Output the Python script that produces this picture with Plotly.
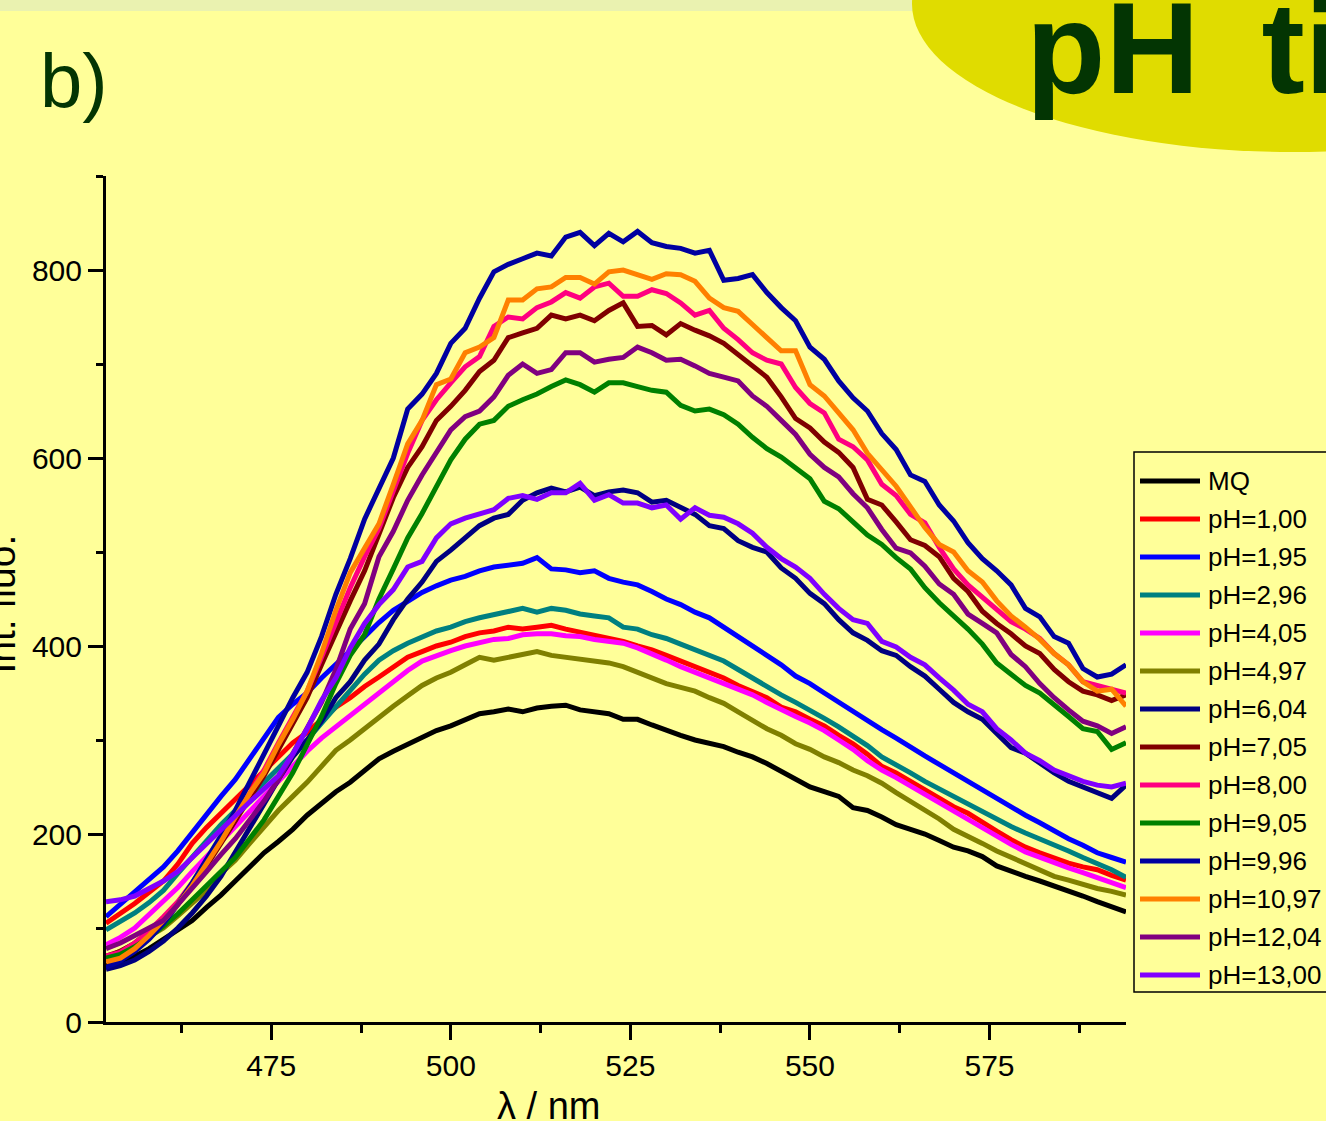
import plotly.graph_objects as go

# ---------------- data ----------------
wavelength = list(range(452, 595, 2))  # nm, 452 ... 594

names = ["MQ", "pH=1,00", "pH=1,95", "pH=2,96", "pH=4,05", "pH=4,97", "pH=6,04",
         "pH=7,05", "pH=8,00", "pH=9,05", "pH=9,96", "pH=10,97", "pH=12,04", "pH=13,00"]
colors = ["#000000", "#FF0000", "#0000FF", "#008080", "#FF00FF", "#808000", "#000080",
          "#800000", "#FF0080", "#008000", "#0000A0", "#FF8000", "#800080", "#8000FF"]

mq = [60, 65, 70, 78, 88, 98, 108, 122, 135, 150,
      165, 180, 192, 205, 220, 232, 245, 255, 268, 280,
      288, 295, 303, 310, 315, 322, 328, 330, 333, 330,
      334, 336, 337, 332, 330, 328, 322, 322, 316, 310,
      305, 300, 297, 293, 287, 282, 275, 267, 258, 250,
      245, 240, 228, 225, 218, 210, 205, 200, 193, 186,
      182, 176, 166, 160, 155, 150, 145, 140, 134, 128,
      122, 117]
ph_1_00 = [105, 115, 126, 138, 150, 168, 190, 207, 222, 237,
           252, 268, 283, 297, 308, 322, 335, 345, 357, 367,
           378, 388, 394, 400, 404, 410, 414, 416, 420, 418,
           420, 422, 418, 415, 412, 408, 405, 400, 396, 390,
           384, 378, 372, 366, 358, 352, 345, 335, 330, 322,
           315, 305, 296, 285, 272, 265, 256, 248, 238, 229,
           222, 212, 203, 194, 186, 180, 174, 169, 165, 162,
           156, 151]
ph_1_95 = [112, 125, 138, 152, 165, 182, 202, 222, 240, 258,
           280, 302, 324, 338, 350, 366, 380, 395, 410, 425,
           438, 448, 457, 464, 470, 474, 480, 484, 486, 488,
           494, 482, 481, 478, 480, 472, 468, 465, 458, 450,
           444, 436, 430, 420, 410, 400, 390, 380, 368, 360,
           350, 340, 330, 320, 311, 302, 292, 283, 274, 265,
           255, 246, 238, 228, 220, 212, 203, 195, 188, 180,
           175, 170]
ph_2_96 = [98, 107, 116, 127, 140, 158, 176, 194, 210, 225,
           240, 255, 270, 285, 300, 318, 335, 352, 370, 385,
           395, 403, 410, 416, 420, 426, 430, 433, 436, 440,
           436, 440, 438, 434, 432, 430, 420, 418, 412, 408,
           402, 396, 390, 384, 375, 366, 356, 348, 340, 332,
           323, 314, 304, 294, 282, 274, 265, 256, 248, 239,
           231, 224, 216, 208, 201, 195, 188, 182, 175, 169,
           162, 154]
ph_4_05 = [82, 90, 100, 114, 128, 143, 160, 176, 192, 208,
           224, 240, 256, 272, 288, 302, 314, 326, 337, 350,
           362, 374, 384, 390, 395, 400, 404, 407, 408, 412,
           413, 413, 411, 410, 407, 405, 403, 398, 392, 385,
           378, 372, 366, 360, 355, 348, 340, 332, 325, 318,
           310, 300, 290, 278, 268, 260, 251, 242, 234, 225,
           216, 207, 198, 189, 181, 175, 170, 164, 159, 154,
           149, 143]
ph_4_97 = [68, 75, 83, 91, 100, 113, 126, 140, 158, 172,
           190, 207, 225, 240, 255, 272, 289, 300, 312, 325,
           336, 347, 358, 366, 372, 380, 388, 385, 388, 392,
           394, 390, 388, 387, 385, 382, 378, 372, 367, 360,
           356, 352, 345, 339, 330, 321, 312, 305, 296, 290,
           282, 276, 268, 262, 254, 244, 235, 226, 216, 205,
           198, 190, 182, 175, 168, 162, 155, 151, 146, 142,
           139, 135]
ph_6_04 = [56, 60, 66, 75, 86, 100, 116, 134, 155, 180,
           205, 232, 258, 282, 300, 320, 345, 362, 385, 402,
           428, 450, 468, 490, 502, 515, 528, 536, 540, 555,
           563, 568, 564, 569, 560, 564, 566, 563, 553, 555,
           548, 540, 528, 525, 512, 505, 500, 483, 472, 456,
           445, 428, 414, 406, 395, 390, 378, 368, 354, 340,
           330, 322, 307, 292, 286, 275, 265, 256, 250, 244,
           238, 252]
ph_7_05 = [70, 75, 84, 96, 110, 126, 145, 166, 190, 213,
           238, 262, 290, 318, 345, 380, 415, 448, 480, 520,
           558, 590, 612, 640, 655, 672, 692, 704, 728, 733,
           738, 752, 748, 752, 746, 757, 765, 740, 741, 731,
           743, 736, 730, 722, 710, 697, 686, 665, 642, 632,
           617, 606, 590, 556, 550, 532, 513, 507, 495, 472,
           458, 437, 424, 413, 400, 392, 375, 362, 352, 348,
           342, 348]
ph_8_00 = [70, 74, 84, 97, 112, 128, 148, 170, 193, 218,
           243, 268, 297, 325, 352, 388, 425, 462, 495, 525,
           565, 605, 640, 662, 680, 697, 708, 740, 750, 748,
           760, 766, 776, 770, 782, 786, 772, 772, 779, 775,
           765, 752, 757, 738, 726, 712, 704, 700, 675, 658,
           648, 620, 612, 598, 572, 560, 540, 531, 505, 482,
           465, 452, 438, 426, 418, 408, 392, 380, 362, 358,
           355, 350]
ph_9_05 = [68, 72, 80, 90, 102, 115, 130, 145, 160, 175,
           195, 215, 240, 265, 295, 325, 360, 390, 412, 450,
           482, 515, 541, 570, 598, 620, 636, 640, 655, 662,
           668, 676, 683, 678, 670, 680, 680, 676, 672, 670,
           656, 650, 652, 646, 636, 622, 610, 601, 590, 578,
           554, 546, 532, 518, 508, 494, 482, 462, 446, 432,
           418, 402, 382, 370, 358, 350, 338, 325, 312, 309,
           290, 297]
ph_9_96 = [58, 65, 75, 88, 105, 125, 148, 172, 198, 225,
           255, 285, 315, 345, 372, 410, 455, 493, 535, 568,
           600, 652, 668, 690, 722, 738, 770, 798, 806, 812,
           818, 815, 835, 840, 826, 839, 830, 841, 829, 825,
           823, 818, 821, 789, 791, 795, 776, 760, 746, 718,
           705, 682, 664, 650, 626, 609, 582, 575, 550, 533,
           510, 493, 480, 465, 440, 431, 410, 403, 376, 367,
           370, 380]
ph_10_97 = [64, 68, 78, 92, 108, 125, 145, 168, 192, 218,
            243, 265, 295, 322, 352, 392, 438, 478, 505, 530,
            572, 615, 640, 678, 684, 712, 718, 728, 768, 768,
            780, 782, 792, 792, 785, 798, 800, 795, 790, 796,
            795, 788, 770, 760, 756, 742, 728, 714, 714, 678,
            666, 648, 630, 605, 587, 570, 548, 526, 508, 500,
            480, 468, 448, 432, 420, 407, 392, 380, 362, 352,
            354, 336]
ph_12_04 = [78, 84, 92, 100, 108, 125, 142, 160, 178, 195,
            215, 235, 258, 285, 312, 340, 375, 418, 445, 495,
            522, 555, 582, 605, 630, 644, 650, 665, 688, 700,
            690, 694, 712, 712, 702, 705, 707, 718, 712, 704,
            705, 698, 690, 686, 682, 666, 655, 640, 625, 604,
            590, 580, 562, 547, 524, 504, 499, 485, 466, 455,
            434, 424, 414, 391, 378, 360, 345, 332, 320, 315,
            307, 314]
ph_13_00 = [128, 130, 134, 142, 150, 160, 175, 190, 204, 220,
            234, 248, 262, 285, 312, 342, 366, 398, 424, 444,
            460, 484, 490, 515, 530, 536, 540, 545, 557, 560,
            556, 563, 563, 573, 555, 561, 552, 552, 547, 550,
            535, 547, 539, 537, 530, 520, 505, 493, 484, 472,
            455, 440, 428, 424, 405, 399, 388, 380, 366, 353,
            338, 330, 312, 300, 286, 278, 268, 262, 256, 252,
            250, 254]

series = [mq, ph_1_00, ph_1_95, ph_2_96, ph_4_05, ph_4_97, ph_6_04,
          ph_7_05, ph_8_00, ph_9_05, ph_9_96, ph_10_97, ph_12_04, ph_13_00]

x_range = [452, 594]
y_range = [0, 900]
x_ticks = [475, 500, 525, 550, 575]
y_ticks = [0, 200, 400, 600, 800]

# ---------------- layout helpers ----------------
W, H = 1326, 1121
L, R, T, B = 106, 1126, 176, 1022          # plot-area edges in pixels


def px(x):
    return (x - L) / (R - L)


def py(y):
    return (B - y) / (B - T)


BG = "#FFFF99"
SANS = "Liberation Sans, Arial, sans-serif"

fig = go.Figure()
for name, col, vals in zip(names, colors, series):
    fig.add_trace(go.Scatter(x=wavelength, y=vals, mode="lines", name=name,
                             line=dict(color=col, width=5), showlegend=False))

axis_common = dict(showline=True, linecolor="black", linewidth=3, mirror=False,
                   ticks="outside", ticklen=15, tickwidth=3, tickcolor="black",
                   showgrid=False, zeroline=False,
                   tickfont=dict(family=SANS, size=30, color="black"))

fig.update_xaxes(range=x_range, tickvals=x_ticks, ticklabelstandoff=0,
                 minor=dict(dtick=12.5, tick0=462.5, ticks="outside", ticklen=8,
                            tickwidth=3, tickcolor="black", showgrid=False),
                 **axis_common)
fig.update_yaxes(range=y_range, tickvals=y_ticks, ticklabelstandoff=0,
                 minor=dict(dtick=100, tick0=100, ticks="outside", ticklen=7,
                            tickwidth=3, tickcolor="black", showgrid=False),
                 **axis_common)

shapes = []
annotations = []

# faint green band at the very top and the yellow ellipse behind the heading
shapes.append(dict(type="rect", xref="paper", yref="paper", layer="below",
                   x0=px(0), x1=px(W), y0=py(11), y1=py(-5),
                   fillcolor="#EAF2B0", line=dict(width=0)))
shapes.append(dict(type="circle", xref="paper", yref="paper", layer="below",
                   x0=px(912), x1=px(1672), y0=py(152), y1=py(-144),
                   fillcolor="#E0DC00", line=dict(width=0)))

annotations.append(dict(text="b)", xref="paper", yref="paper", x=px(38), y=py(80),
                        xanchor="left", yanchor="middle", showarrow=False,
                        font=dict(family=SANS, size=76, color="#033503")))
annotations.append(dict(text="<b>pH\u2009 ti</b>", xref="paper", yref="paper",
                        x=px(1024), y=py(48), xanchor="left", yanchor="middle",
                        showarrow=False,
                        font=dict(family=SANS, size=130, color="#033503")))

# axis titles
annotations.append(dict(text="λ / nm", xref="paper", yref="paper", x=px(548), y=py(1106),
                        xanchor="center", yanchor="middle", showarrow=False,
                        font=dict(family=SANS, size=38, color="black")))
annotations.append(dict(text="Int. fluo.", xref="paper", yref="paper", x=px(24), y=py(604),
                        xanchor="right", yanchor="middle", textangle=-90, showarrow=False,
                        font=dict(family=SANS, size=39, color="black")))

# legend box drawn by hand (long line samples, clipped at the right edge)
leg_top, leg_bot, leg_left = 452, 992, 1134
shapes.append(dict(type="rect", xref="paper", yref="paper",
                   x0=px(leg_left), x1=px(1400), y0=py(leg_bot), y1=py(leg_top),
                   fillcolor=BG, line=dict(color="black", width=1.5), layer="below"))
for i, (name, col) in enumerate(zip(names, colors)):
    yy = 481 + 38 * i
    shapes.append(dict(type="line", xref="paper", yref="paper",
                       x0=px(1140), x1=px(1200), y0=py(yy), y1=py(yy),
                       line=dict(color=col, width=5)))
    annotations.append(dict(text=name, xref="paper", yref="paper", x=px(1206), y=py(yy),
                            xanchor="left", yanchor="middle", showarrow=False,
                            font=dict(family=SANS, size=26, color="black")))

fig.update_layout(width=W, height=H, autosize=False,
                  margin=dict(l=L, r=W - R, t=T, b=H - B, pad=0),
                  paper_bgcolor=BG, plot_bgcolor=BG,
                  shapes=shapes, annotations=annotations, showlegend=False)

fig.write_html(
    "out.html",
    config={"displayModeBar": False},
    post_script="document.body.style.margin='0';document.body.style.padding='0';"
                "document.body.style.overflow='hidden';"
                "document.body.style.background='" + BG + "';",
)
